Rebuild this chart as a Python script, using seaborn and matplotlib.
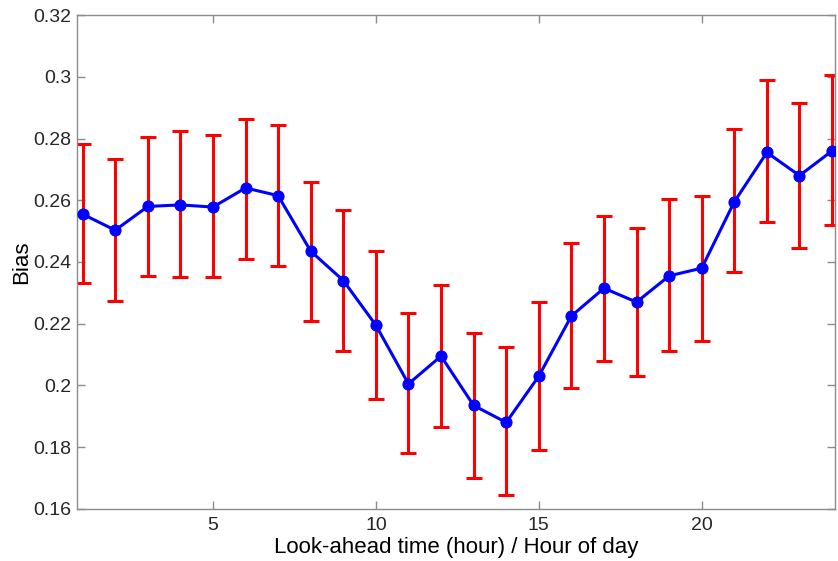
import matplotlib
matplotlib.use("Agg")
import matplotlib.pyplot as plt
import seaborn as sns
import pandas as pd
import numpy as np
from matplotlib.ticker import FuncFormatter

# Hourly bias with its lower/upper interval bounds
hours = list(range(1, 25))
bias = [0.2555, 0.2503, 0.2580, 0.2585, 0.2578, 0.2640, 0.2615, 0.2435,
        0.2340, 0.2195, 0.2005, 0.2095, 0.1935, 0.1880, 0.2030, 0.2225,
        0.2315, 0.2270, 0.2355, 0.2380, 0.2595, 0.2755, 0.2680, 0.2760]
lower = [0.2332, 0.2272, 0.2355, 0.2350, 0.2350, 0.2410, 0.2388, 0.2210,
         0.2110, 0.1955, 0.1780, 0.1865, 0.1700, 0.1645, 0.1790, 0.1990,
         0.2080, 0.2030, 0.2110, 0.2145, 0.2368, 0.2528, 0.2445, 0.2520]
upper = [0.2782, 0.2735, 0.2805, 0.2825, 0.2810, 0.2865, 0.2845, 0.2660,
         0.2570, 0.2435, 0.2235, 0.2325, 0.2170, 0.2125, 0.2270, 0.2460,
         0.2548, 0.2510, 0.2603, 0.2615, 0.2830, 0.2990, 0.2915, 0.3005]
y_ticks = [0.16, 0.18, 0.20, 0.22, 0.24, 0.26, 0.28, 0.30, 0.32]
x_ticks = [5, 10, 15, 20]

df = pd.DataFrame({"hour": hours, "bias": bias, "lower": lower, "upper": upper})

sns.set_theme(style="white")
plt.rcParams["font.family"] = ["Liberation Sans", "DejaVu Sans"]

fig = plt.figure(figsize=(8.38, 5.61), dpi=100)
ax = fig.add_axes([0.092, 0.093, 0.904, 0.880])

yerr = np.vstack([df["bias"] - df["lower"], df["upper"] - df["bias"]])
ax.errorbar(df["hour"], df["bias"], yerr=yerr, fmt="none", ecolor="#ff0000",
            elinewidth=2.2, capsize=5.6, capthick=2.2, zorder=2)
sns.lineplot(data=df, x="hour", y="bias", ax=ax, color="#0000ff", linewidth=2.2,
             marker="o", markersize=8, markeredgecolor="#0000ff", zorder=3)

ax.set_xlim(0.83, 24.08)
ax.set_ylim(0.16, 0.32)
ax.set_xticks(x_ticks)
ax.set_yticks(y_ticks)
ax.yaxis.set_major_formatter(FuncFormatter(lambda v, p: f"{v:.2f}".rstrip("0")))

spine_col = "#8c8c8c"
for s in ax.spines.values():
    s.set_visible(True)
    s.set_color(spine_col)
    s.set_linewidth(1.0)
ax.tick_params(direction="in", length=6, width=1.0, color=spine_col,
               top=True, right=True, bottom=True, left=True,
               labelsize=14, labelcolor="#262626", pad=4)
ax.tick_params(axis="x", pad=6)

ax.set_xlabel("Look-ahead time (hour) / Hour of day", fontsize=16, color="black", labelpad=2)
ax.set_ylabel("Bias", fontsize=16, color="black", labelpad=1)

fig.savefig("out.png", dpi=100)
